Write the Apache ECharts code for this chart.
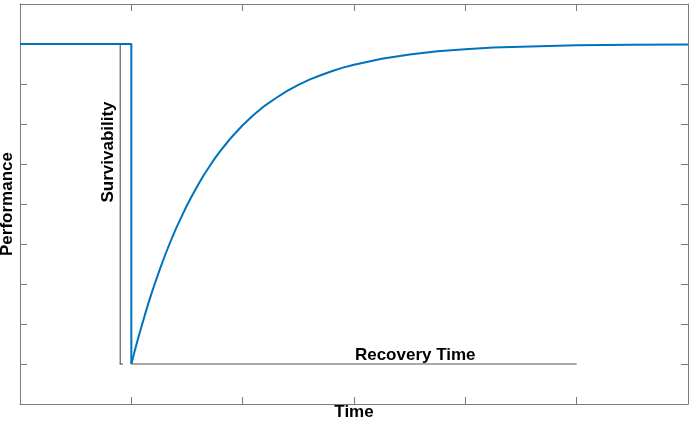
<!DOCTYPE html>
<html>
<head>
<meta charset="utf-8">
<script src="https://cdn.jsdelivr.net/npm/echarts@6/dist/echarts.min.js"></script>
<style>
html,body{margin:0;padding:0;background:#fff;}
#chart{width:692px;height:421px;}
</style>
</head>
<body>
<div id="chart"></div>
<script>
// Performance curve (time, performance)
const stepTime = [0, 1, 1];
const stepPerf = [0.9, 0.9, 0.1];
const recTimePts = [1, 1.025, 1.05, 1.075, 1.1, 1.125, 1.15, 1.175, 1.2, 1.25, 1.3, 1.35, 1.4, 1.45, 1.5, 1.55, 1.6, 1.65, 1.7, 1.75, 1.8, 1.85, 1.9, 1.95, 2.0, 2.1, 2.2, 2.3, 2.4, 2.5, 2.6, 2.7, 2.8, 2.9, 3.0, 3.25, 3.5, 3.75, 4.0, 4.25, 4.5, 5.0, 5.5, 6.0];
const recPerfPts = [0.1, 0.127, 0.153, 0.178, 0.202, 0.226, 0.249, 0.271, 0.292, 0.332, 0.370, 0.405, 0.438, 0.468, 0.497, 0.523, 0.548, 0.572, 0.593, 0.614, 0.633, 0.650, 0.667, 0.682, 0.697, 0.723, 0.746, 0.765, 0.783, 0.798, 0.811, 0.822, 0.832, 0.841, 0.848, 0.863, 0.874, 0.882, 0.887, 0.891, 0.893, 0.897, 0.898, 0.899];

// Annotation: survivability dimension line (time, from, to)
const survTime = 0.9;
const survFrom = 0.9;
const survTo = 0.1;
// Annotation: recovery time line (from time, to time, level)
const recFrom = 1;
const recTo = 5;
const recLevel = 0.1;
// Annotation texts
const labelTexts = ['Survivability', 'Recovery Time'];
const labelX = [0.79, 3.55];
const labelY = [0.63, 0.1225];

const axisNames = ['Time', 'Performance'];

const stepLine = stepTime.map((t, i) => [t, stepPerf[i]]);
const recCurve = recTimePts.map((t, i) => [t, recPerfPts[i]]);
const capW = 0.025;
const survLine = [[survTime - 0.005, survFrom], [survTime + capW, survFrom], '-',
                  [survTime, survFrom], [survTime, survTo], '-',
                  [survTime - 0.005, survTo], [survTime + capW, survTo]];
const recLine = [[recFrom, recLevel], [recTo, recLevel]];

const axisColor = '#7a7a7a';
function mkAxis(extra) {
  return Object.assign({
    type: 'value',
    axisLine: {show: true, onZero: false, lineStyle: {color: axisColor, width: 1}},
    axisTick: {show: true, inside: true, length: 7, lineStyle: {color: axisColor}},
    axisLabel: {show: false},
    splitLine: {show: false}
  }, extra);
}
const FS = 17;
const nameStyle = {fontFamily: 'Liberation Sans', fontWeight: 'bold', fontSize: FS, color: '#000'};

const option = {
  animation: false,
  backgroundColor: '#fff',
  grid: {left: 20, top: 4, width: 668, height: 400, show: false, containLabel: false, outerBoundsMode: 'none'},
  xAxis: [
    mkAxis({min: 0, max: 6, interval: 1, position: 'bottom',
      name: axisNames[0], nameLocation: 'middle', nameGap: 0, nameTextStyle: nameStyle}),
    mkAxis({min: 0, max: 6, interval: 1, position: 'top'})
  ],
  yAxis: [
    mkAxis({min: 0, max: 1, interval: 0.1, position: 'left',
      name: axisNames[1], nameLocation: 'middle', nameGap: 4, nameTextStyle: nameStyle}),
    mkAxis({min: 0, max: 1, interval: 0.1, position: 'right'})
  ],
  series: [
    {
      type: 'line', data: survLine, showSymbol: false, symbol: 'none', connectNulls: false,
      lineStyle: {color: '#404040', width: 1}, silent: true, z: 2
    },
    {
      type: 'line', data: recLine, showSymbol: false, symbol: 'none',
      lineStyle: {color: '#555', width: 1}, silent: true, z: 2
    },
    {
      type: 'line', data: stepLine, showSymbol: false, symbol: 'none',
      lineStyle: {color: '#0072BD', width: 2}, z: 3
    },
    {
      type: 'line', data: recCurve, showSymbol: false, symbol: 'none',
      lineStyle: {color: '#0072BD', width: 2, join: 'round'}, z: 3
    },
    {
      type: 'scatter', symbolSize: 0, silent: true, z: 4,
      itemStyle: {opacity: 1},
      data: labelTexts.map((txt, i) => ({
        name: txt, value: [labelX[i], labelY[i]],
        label: {show: true, position: 'inside', formatter: txt, rotate: i === 0 ? 90 : 0,
          fontFamily: 'Liberation Sans', fontWeight: 'bold', fontSize: FS, color: '#000',
          textBorderWidth: 0, opacity: 1}
      }))
    }
  ]
};

const chart = echarts.init(document.getElementById('chart'), null, {renderer: 'canvas'});
chart.setOption(option);
</script>
</body>
</html>
